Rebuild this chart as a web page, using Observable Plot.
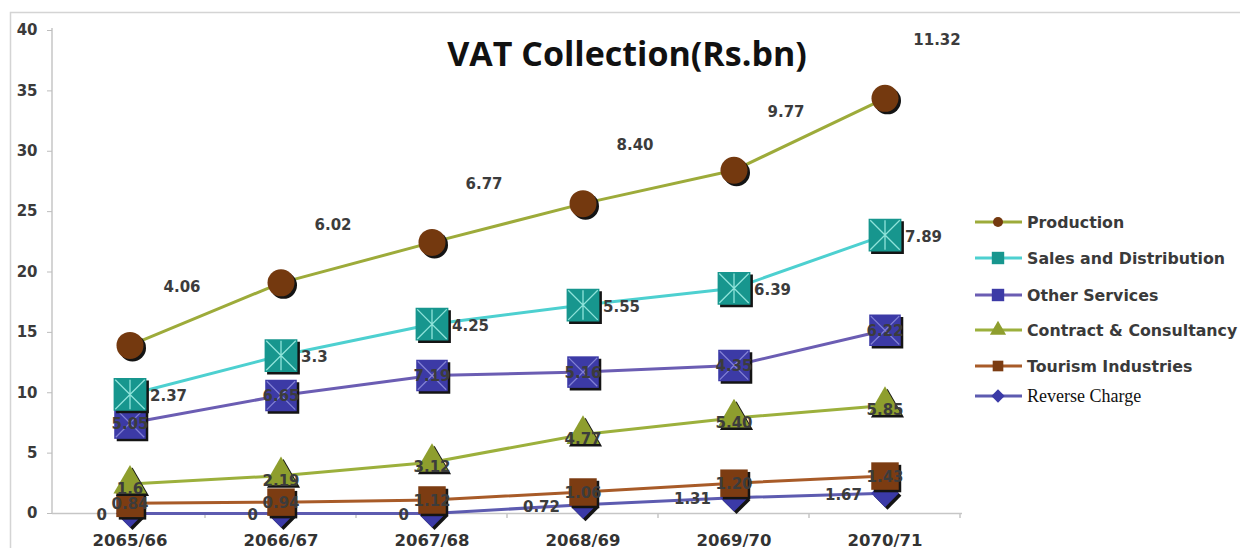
<!DOCTYPE html>
<html><head><meta charset="utf-8">
<script src="https://cdn.jsdelivr.net/npm/d3@7"></script>
<script src="https://cdn.jsdelivr.net/npm/@observablehq/plot@0.6"></script>
<style>
body{margin:0;background:#fff;}
#chart{position:relative;width:1240px;height:548px;overflow:hidden;background:#fff;}
</style>
</head><body><div id="chart"></div>
<script>
// ---- data ----
const years = ["2065/66","2066/67","2067/68","2068/69","2069/70","2070/71"];
const stackOrder = ["Reverse Charge","Tourism Industries","Contract & Consultancy","Other Services","Sales and Distribution","Production"];
const legendOrder = ["Production","Sales and Distribution","Other Services","Contract & Consultancy","Tourism Industries","Reverse Charge"];
const reverseCharge = [0, 0, 0, 0.72, 1.31, 1.67];
const tourism = [0.84, 0.94, 1.12, 1.06, 1.20, 1.43];
const contract = [1.6, 2.19, 3.12, 4.77, 5.40, 5.85];
const otherServices = [5.05, 6.65, 7.19, 5.16, 4.35, 6.22];
const salesDist = [2.37, 3.3, 4.25, 5.55, 6.39, 7.89];
const production = [4.06, 6.02, 6.77, 8.40, 9.77, 11.32];
// data labels as printed on the chart
const reverseChargeLabels = ["0", "0", "0", "0.72", "1.31", "1.67"];
const tourismLabels = ["0.84", "0.94", "1.12", "1.06", "1.20", "1.43"];
const contractLabels = ["1.6", "2.19", "3.12", "4.77", "5.40", "5.85"];
const otherServicesLabels = ["5.05", "6.65", "7.19", "5.16", "4.35", "6.22"];
const salesDistLabels = ["2.37", "3.3", "4.25", "5.55", "6.39", "7.89"];
const productionLabels = ["4.06", "6.02", "6.77", "8.40", "9.77", "11.32"];
const yTicks = [0, 5, 10, 15, 20, 25, 30, 35, 40];
const title = "VAT Collection(Rs.bn)";

const values = {
  "Reverse Charge": reverseCharge,
  "Tourism Industries": tourism,
  "Contract & Consultancy": contract,
  "Other Services": otherServices,
  "Sales and Distribution": salesDist,
  "Production": production
};
const labels = {
  "Reverse Charge": reverseChargeLabels,
  "Tourism Industries": tourismLabels,
  "Contract & Consultancy": contractLabels,
  "Other Services": otherServicesLabels,
  "Sales and Distribution": salesDistLabels,
  "Production": productionLabels
};

// ---- styles ----
const starSym = {draw(ctx, size){const h=Math.sqrt(size)/2*0.9;ctx.moveTo(-h,-h);ctx.lineTo(h,h);ctx.moveTo(h,-h);ctx.lineTo(-h,h);ctx.moveTo(0,-h);ctx.lineTo(0,h);}};
const xSym = {draw(ctx, size){const h=Math.sqrt(size)/2*0.9;ctx.moveTo(-h,-h);ctx.lineTo(h,h);ctx.moveTo(h,-h);ctx.lineTo(-h,h);}};
const style = {
  "Production": {line:"#9dab3a", fill:"#74390f", symbol:"circle", r:13.5, lab:{dx:52, dy:-58, anchor:"middle"}, lr:5},
  "Sales and Distribution": {line:"#4dd0d0", fill:"#17968e", symbol:"square", r:18.5, over:starSym, ocol:"#8fe3da", lab:{dx:20, dy:2, anchor:"start"}, lr:7},
  "Other Services": {line:"#6b5db3", fill:"#3c3aa6", symbol:"square", r:17.8, over:xSym, ocol:"#8280d4", lab:{dx:0, dy:1, anchor:"middle"}, lr:7},
  "Contract & Consultancy": {line:"#9cb03c", fill:"#8e9e2e", symbol:"triangle", r:12.3, lab:{dx:0, dy:5, anchor:"middle"}, lr:6},
  "Tourism Industries": {line:"#a85b28", fill:"#7c3c12", symbol:"square", r:15.5, lab:{dx:0, dy:1, anchor:"middle"}, lr:6},
  "Reverse Charge": {line:"#5d5bb0", fill:"#3b3aa7", symbol:"diamond2", r:12.5, lab:{dx:-23, dy:2, anchor:"end"}, lr:6}
};

// ---- stacked rows ----
const rows = [];
years.forEach((yr, i) => {
  let c = 0;
  for (const s of stackOrder) {
    const v = values[s][i];
    c += v;
    rows.push({series: s, year: yr, value: v, cum: c, label: labels[s][i]});
  }
});
const bySeries = s => rows.filter(d => d.series === s);

const lineMarks = stackOrder.map(s => Plot.line(bySeries(s), {x:"year", y:"cum", stroke: style[s].line, strokeWidth: 3}));
const markerMarks = [];
for (const s of stackOrder) {
  const st = style[s], data = bySeries(s);
  markerMarks.push(Plot.dot(data, {x:"year", y:"cum", symbol: st.symbol, r: st.r, fill:"#141414", dx:2.5, dy:2.5}));
  markerMarks.push(Plot.dot(data, {x:"year", y:"cum", symbol: st.symbol, r: st.r, fill: st.fill}));
  if (st.over) markerMarks.push(Plot.dot(data, {x:"year", y:"cum", symbol: st.over, r: st.r, fill:"none", stroke: st.ocol, strokeWidth: 1.3}));
}
const labelMarks = stackOrder.map(s => {
  const st = style[s];
  return Plot.text(bySeries(s), {x:"year", y:"cum", text: "label", dx: st.lab.dx, dy: st.lab.dy, textAnchor: st.lab.anchor,
    fill:"#3c3c3c", fontSize: 15, fontWeight: "bold", fontFamily: "DejaVu Sans"});
});

const chart = Plot.plot({
  width: 1240, height: 548,
  marginLeft: 52, marginRight: 278, marginTop: 30, marginBottom: 35,
  style: {background: "transparent", fontFamily: "DejaVu Sans", overflow: "visible"},
  x: {type: "band", domain: years, padding: 0, label: null},
  y: {domain: [0, 40], label: null},
  marks: [
    Plot.ruleY([0], {stroke: "#c6c6c6", strokeWidth: 1.5}),
    Plot.axisY({ticks: yTicks, tickSize: 5, tickPadding: 10, color: "#3a3a3a", fontSize: 15, fontWeight: "bold", label: null}),
    Plot.axisX({tickSize: 0, tickPadding: 21, color: "#333", fontSize: 16.5, fontWeight: "bold", label: null}),
    ...lineMarks,
    ...markerMarks,
    ...labelMarks
  ]
});
document.getElementById("chart").appendChild(chart);

const svg = d3.select(chart);
svg.selectAll('[aria-label="y-axis tick"] path, [aria-label="y-axis tick"]').attr("stroke", "#bdbdbd");

// background decorations (border, axis lines, category ticks)
const bg = svg.insert("g", ":first-child");
bg.append("rect").attr("x", 10.5).attr("y", 12.5).attr("width", 1300).attr("height", 600)
  .attr("fill", "none").attr("stroke", "#d4d4d4").attr("stroke-width", 1.5);
const xs = chart.scale("x"), ys = chart.scale("y");
const y0 = ys.apply(0), yTop = ys.apply(40);
bg.append("line").attr("x1", 52).attr("x2", 52).attr("y1", yTop - 2).attr("y2", y0)
  .attr("stroke", "#c6c6c6").attr("stroke-width", 1.5);
years.forEach(yr => {
  const xe = xs.apply(yr) + xs.bandwidth;
  bg.append("line").attr("x1", xe).attr("x2", xe).attr("y1", y0).attr("y2", y0 + 5)
    .attr("stroke", "#c6c6c6").attr("stroke-width", 1.5);
});

// title
svg.append("text").attr("x", 627).attr("y", 66).attr("text-anchor", "middle")
  .attr("font-family", "Open Sans").attr("font-weight", "bold").attr("font-size", 34)
  .attr("fill", "#111").text(title);

// legend
const lg = svg.append("g").attr("text-anchor", "start");
const legendY = [222, 258, 295, 330, 366, 396];
legendOrder.forEach((s, i) => {
  const st = style[s], y = legendY[i];
  lg.append("line").attr("x1", 975).attr("x2", 1022).attr("y1", y).attr("y2", y)
    .attr("stroke", st.line).attr("stroke-width", 3);
  const symType = {circle: d3.symbolCircle, square: d3.symbolSquare, triangle: d3.symbolTriangle, diamond2: d3.symbolDiamond2}[st.symbol];
  lg.append("path").attr("transform", `translate(998,${y})`)
    .attr("d", d3.symbol(symType, Math.PI * st.lr * st.lr)()).attr("fill", st.fill);
  const t = lg.append("text").attr("x", 1027).attr("y", y).attr("dy", "0.35em").attr("text-anchor", "start").text(s);
  if (s === "Reverse Charge") {
    t.attr("font-family", "Liberation Serif").attr("font-size", 18).attr("fill", "#111");
  } else {
    t.attr("font-family", "DejaVu Sans").attr("font-weight", "bold").attr("font-size", 15.8).attr("fill", "#3a3a3a");
  }
});
</script>
</body></html>
